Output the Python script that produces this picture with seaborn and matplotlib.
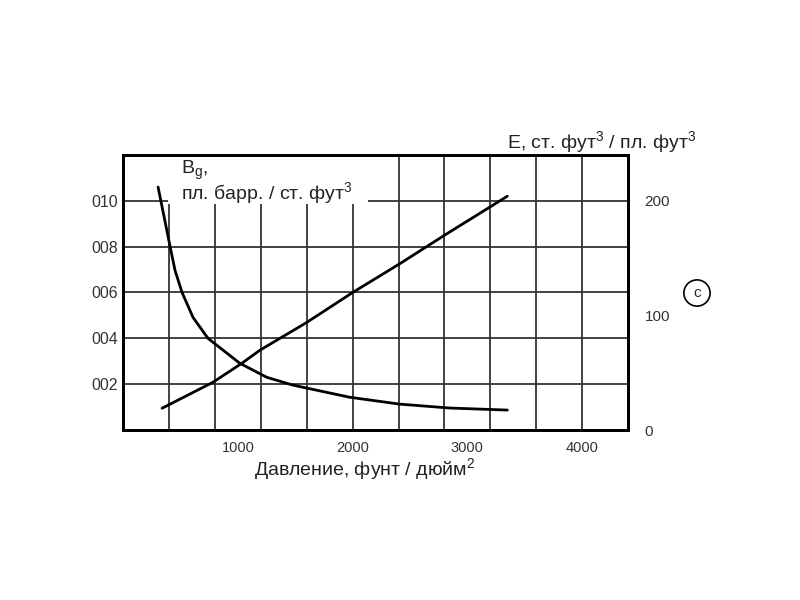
import numpy as np
import pandas as pd
import matplotlib
matplotlib.use('Agg')
import matplotlib.pyplot as plt
from matplotlib.patches import Rectangle
import seaborn as sns

# Bg curve (пл. барр. / ст. фут3) vs pressure
bg_pressure = [304, 409, 452, 513, 609, 739, 1017, 1252, 1478, 1974, 2409, 2843, 3348]
bg_values = [0.0106, 0.0080, 0.00696, 0.0060, 0.00491, 0.0040, 0.00291,
             0.0023, 0.00196, 0.00143, 0.00113, 0.00096, 0.00087]

# E curve (ст. фут3 / пл. фут3) vs pressure
e_pressure = [339, 783, 1035, 1191, 1600, 2000, 2409, 2817, 3348]
e_values = [19, 41.7, 58.3, 69.6, 93.9, 120, 145, 171, 204]

x_ticks = [1000, 2000, 3000, 4000]
left_ticks = [0.002, 0.004, 0.006, 0.008, 0.010]
left_labels = ["002", "004", "006", "008", "010"]
right_ticks = [0, 100, 200]

sns.set_style("white")
plt.rcParams['font.family'] = ['Liberation Sans', 'DejaVu Sans']
plt.rcParams['mathtext.fontset'] = 'custom'
plt.rcParams['mathtext.rm'] = 'Liberation Sans'

bg_df = pd.DataFrame({"p": bg_pressure, "bg": bg_values})
e_df = pd.DataFrame({"p": e_pressure, "e": e_values})

fig = plt.figure(figsize=(8, 6), dpi=100)
ax = fig.add_axes([0.154, 0.2833, 0.631, 0.4584])

ax.set_xlim(0, 4400)
ax.set_ylim(0, 0.012)

# grid every 400 psi and every 0.002
ax.xaxis.remove_overlapping_locs = False
ax.set_xticks(np.arange(400, 4400, 400), minor=True)
ax.set_xticks(x_ticks)
ax.set_yticks(left_ticks)
ax.set_yticklabels(left_labels)
ax.grid(which='minor', axis='x', color='#333333', lw=1.3)
ax.grid(which='major', axis='y', color='#333333', lw=1.3)
ax.grid(which='major', axis='x', visible=False)
ax.tick_params(which='both', length=0)
ax.tick_params(axis='y', pad=4, labelsize=11.5, colors='#333333')
ax.tick_params(axis='x', pad=8, labelsize=10.5, colors='#333333')

# white patch behind the Bg label
ax.add_patch(Rectangle((390, 0.00985), 1740, 0.0022, fc='white', ec='none', zorder=1.8))

sns.lineplot(data=bg_df, x="p", y="bg", ax=ax, color='black', lw=2, zorder=4)
ax.set_xlabel("")
ax.set_ylabel("")

ax2 = ax.twinx()
ax2.set_ylim(0, 240)
sns.lineplot(data=e_df, x="p", y="e", ax=ax2, color='black', lw=2)
ax2.set_yticks(right_ticks)
ax2.set_ylabel("")
ax2.tick_params(length=0, pad=12, labelsize=11, colors='#333333')
ax2.grid(False)

for a in (ax, ax2):
    for s in a.spines.values():
        s.set_visible(True)
        s.set_color('black')
        s.set_linewidth(2)

ax.text(504, 0.01185, r"B$_\mathrm{g}$,", fontsize=14, va='top', ha='left',
        color='#222222', zorder=3)
ax.text(504, 0.0103, "пл. барр. / ст. фут$^3$", fontsize=14, va='center', ha='left',
        color='#222222', zorder=3)

fig.text(507 / 800, 1 - 143 / 600, "E, ст. фут$^3$ / пл. фут$^3$", fontsize=14,
         ha='left', va='center', color='#222222')
fig.text(365 / 800, 1 - 470 / 600, "Давление, фунт / дюйм$^2$", fontsize=14,
         ha='center', va='center', color='#222222')
fig.text(697 / 800, 1 - 293 / 600, "c", fontsize=11, ha='center', va='center',
         bbox=dict(boxstyle='circle,pad=0.4', fc='white', ec='black', lw=1.2))

fig.savefig("out.png", dpi=100)
